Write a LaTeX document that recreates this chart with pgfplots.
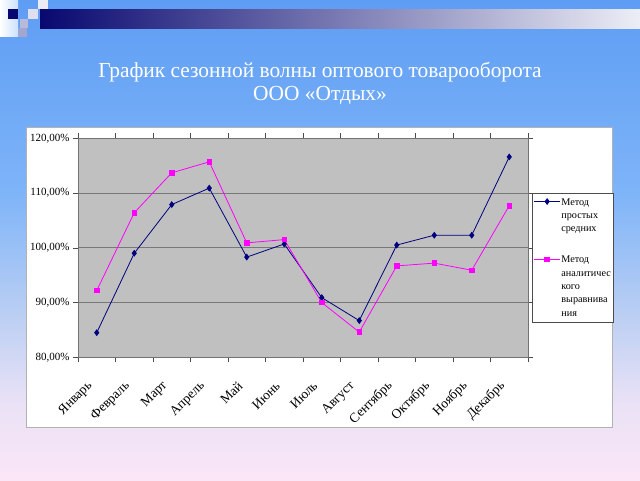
\documentclass[border=0pt]{standalone}
\usepackage{fontspec}
\setmainfont{Liberation Serif}
\usepackage{pgfplots}
\pgfplotsset{compat=1.18}

\definecolor{plotgray}{RGB}{192,192,192}
\definecolor{gridgray}{RGB}{120,120,120}
\definecolor{navyline}{RGB}{0,0,128}
\definecolor{magline}{RGB}{255,0,255}
\definecolor{bgA}{RGB}{250,230,247}
\definecolor{bgB}{RGB}{234,226,246}
\definecolor{bgC}{RGB}{188,207,243}
\definecolor{bgD}{RGB}{126,180,248}
\definecolor{bgE}{RGB}{94,157,244}
\definecolor{bandL}{RGB}{8,8,112}
\definecolor{bandM}{RGB}{125,128,190}
\definecolor{bandR}{RGB}{236,238,246}

\pgfdeclareverticalshading{slidebg}{100bp}{color(0bp)=(bgA); color(25bp)=(bgA); color(33bp)=(bgB); color(42bp)=(bgC); color(55bp)=(bgD); color(75bp)=(bgE); color(100bp)=(bgE)}

\newcommand\legtext[1]{\begin{tabular}[t]{@{}l@{}}#1\end{tabular}}

\begin{document}
\begin{tikzpicture}[x=1pt,y=1pt]
\useasboundingbox (0,0) rectangle (640,480);
\shade[shading=slidebg] (0,0) rectangle (640,480);

% top band and squares
\shade[left color=bandL, middle color=bandM, right color=bandR] (40,451) rectangle (640,470);
\shade[left color=white, right color=bgD!40] (0,443) rectangle (18,480);
\fill[bandL] (8,461) rectangle (18,471);
\fill[white!75!bandM] (28,461) rectangle (38,471);
\fill[white!45!bandM] (20,452) rectangle (28,461);
\fill[white!30!bandM] (18,443) rectangle (27,452);
\fill[white!85!bandM] (38,471) rectangle (48,480);

% title
\node[text=white, align=center, font=\fontsize{21.4}{23}\selectfont] at (320,396.5)
  {График сезонной волны оптового товарооборота\\ООО «Отдых»};

% chart area
\filldraw[fill=white, draw=black!30] (26,52.5) rectangle (612,352.5);

\begin{axis}[
  at={(78pt,122.7pt)}, anchor=south west,
  width=450pt, height=219pt, scale only axis,
  xmin=-0.5, xmax=11.5, ymin=80, ymax=120,
  xtick={-0.5,0.5,1.5,2.5,3.5,4.5,5.5,6.5,7.5,8.5,9.5,10.5,11.5},
  x tick label as interval,
  xticklabels={Январь,Февраль,Март,Апрель,Май,Июнь,Июль,Август,Сентябрь,Октябрь,Ноябрь,Декабрь},
  ytick={80,90,100,110,120},
  yticklabels={{80,00\%},{90,00\%},{100,00\%},{110,00\%},{120,00\%}},
  tick align=outside, major tick length=5pt,
  tick style={black!70, line width=0.6pt},
  axis line style={black!55, line width=0.7pt},
  ymajorgrids, grid style={gridgray, line width=0.7pt},
  axis background/.style={fill=plotgray},
  xticklabel style={xshift=-4pt, yshift=-19pt, rotate=45, anchor=east,
    font=\fontsize{13.5}{15}\selectfont},
  yticklabel style={font=\fontsize{11}{12}\selectfont},
  legend style={at={(1.009,0.75)}, anchor=north west, draw=black!70, fill=white,
    font=\fontsize{10.2}{13.3}\selectfont, inner xsep=1.5pt, inner ysep=0.5pt,
    row sep=14pt, column sep=0pt, cells={anchor=base west},
    nodes={text depth=, inner xsep=0.8pt}},
  legend image code/.code={\draw[#1, yshift=3.5pt, mark repeat=2, mark phase=2]
    plot coordinates {(0pt,0pt) (13pt,0pt) (26pt,0pt)};},
]
\addplot[navyline, line width=0.8pt, mark=diamond*, mark size=2.8pt] coordinates {
(0,84.5) (1,99.0) (2,107.9) (3,110.9) (4,98.3) (5,100.7)
(6,90.9) (7,86.7) (8,100.5) (9,102.3) (10,102.3) (11,116.6)};
\addlegendentry{\legtext{Метод\\простых\\средних}}
\addplot[magline, line width=0.8pt, mark=square*, mark size=2.3pt] coordinates {
(0,92.2) (1,106.4) (2,113.7) (3,115.7) (4,100.9) (5,101.5)
(6,90.0) (7,84.6) (8,96.7) (9,97.2) (10,95.9) (11,107.7)};
\addlegendentry{\legtext{Метод\\аналитичес\\кого\\выравнива\\ния}}
\end{axis}
\end{tikzpicture}
\end{document}
